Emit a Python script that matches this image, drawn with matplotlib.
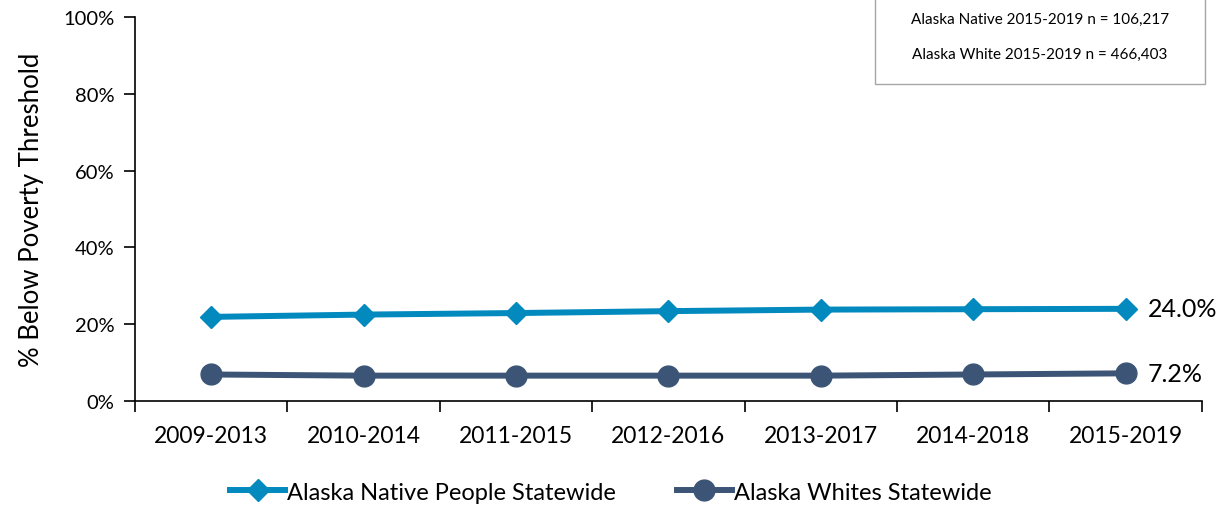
import matplotlib

matplotlib.use("Agg")
import matplotlib.pyplot as plt
from matplotlib.ticker import FuncFormatter

plt.rcParams["font.family"] = ["Lato", "DejaVu Sans"]

periods = ["2009-2013", "2010-2014", "2011-2015", "2012-2016", "2013-2017", "2014-2018", "2015-2019"]
native_pct = [21.9, 22.5, 22.9, 23.4, 23.8, 23.9, 24.0]
white_pct = [6.9, 6.6, 6.6, 6.6, 6.6, 6.9, 7.2]
native_label = "Alaska Native People Statewide"
white_label = "Alaska Whites Statewide"
note_lines = ["Alaska Native 2015-2019 n = 106,217", "Alaska White 2015-2019 n = 466,403"]

native_color = "#0289BE"
white_color = "#3C5576"

fig = plt.figure(figsize=(12.22, 5.10), dpi=100)
ax = fig.add_axes([0.1105, 0.2118, 0.873, 0.7529])

x = list(range(len(periods)))
ax.plot(x, native_pct, color=native_color, lw=4.3, marker="D", ms=11, label=native_label)
ax.plot(x, white_pct, color=white_color, lw=4.3, marker="o", ms=15, label=white_label)

ax.set_xlim(-0.5, len(periods) - 0.5)
ax.set_ylim(0, 100)
ax.set_yticks(range(0, 101, 20))
ax.yaxis.set_major_formatter(FuncFormatter(lambda v, _: f"{v:.0f}%"))
ax.set_xticks(x)
ax.set_xticklabels(periods)
ax.set_xticks([i - 0.5 for i in range(len(periods) + 1)], minor=True)
ax.tick_params(axis="x", which="major", length=0, labelsize=16.5, pad=17)
ax.tick_params(axis="x", which="minor", length=8, direction="out", width=1.2)
ax.tick_params(axis="y", length=8, width=1.2, labelsize=14.5, pad=7)
ax.set_ylabel("% Below Poverty Threshold", fontsize=18.5, labelpad=14)

for side in ("top", "right"):
    ax.spines[side].set_visible(False)
for side in ("left", "bottom"):
    ax.spines[side].set_linewidth(1.2)

ax.annotate(f"{native_pct[-1]:.1f}%", (x[-1], native_pct[-1]), xytext=(16, 0),
            textcoords="offset points", va="center", fontsize=18)
ax.annotate(f"{white_pct[-1]:.1f}%", (x[-1], white_pct[-1]), xytext=(16, 0),
            textcoords="offset points", va="center", fontsize=18)

fig.legend(loc="center", bbox_to_anchor=(0.5, 0.033), ncol=2, frameon=False,
           fontsize=17, handlelength=2.3, columnspacing=2.6, handletextpad=0.1)

box = plt.Rectangle((875 / 1222, 1 - 85 / 510), 330 / 1222, 85 / 510 + 0.01,
                    transform=fig.transFigure, fill=False, edgecolor="#A6A6A6", lw=1)
fig.add_artist(box)
fig.text(1040 / 1222, 1 - 20 / 510, note_lines[0], ha="center", va="center", fontsize=11)
fig.text(1040 / 1222, 1 - 55 / 510, note_lines[1], ha="center", va="center", fontsize=11)

fig.savefig("out.png", dpi=100)
